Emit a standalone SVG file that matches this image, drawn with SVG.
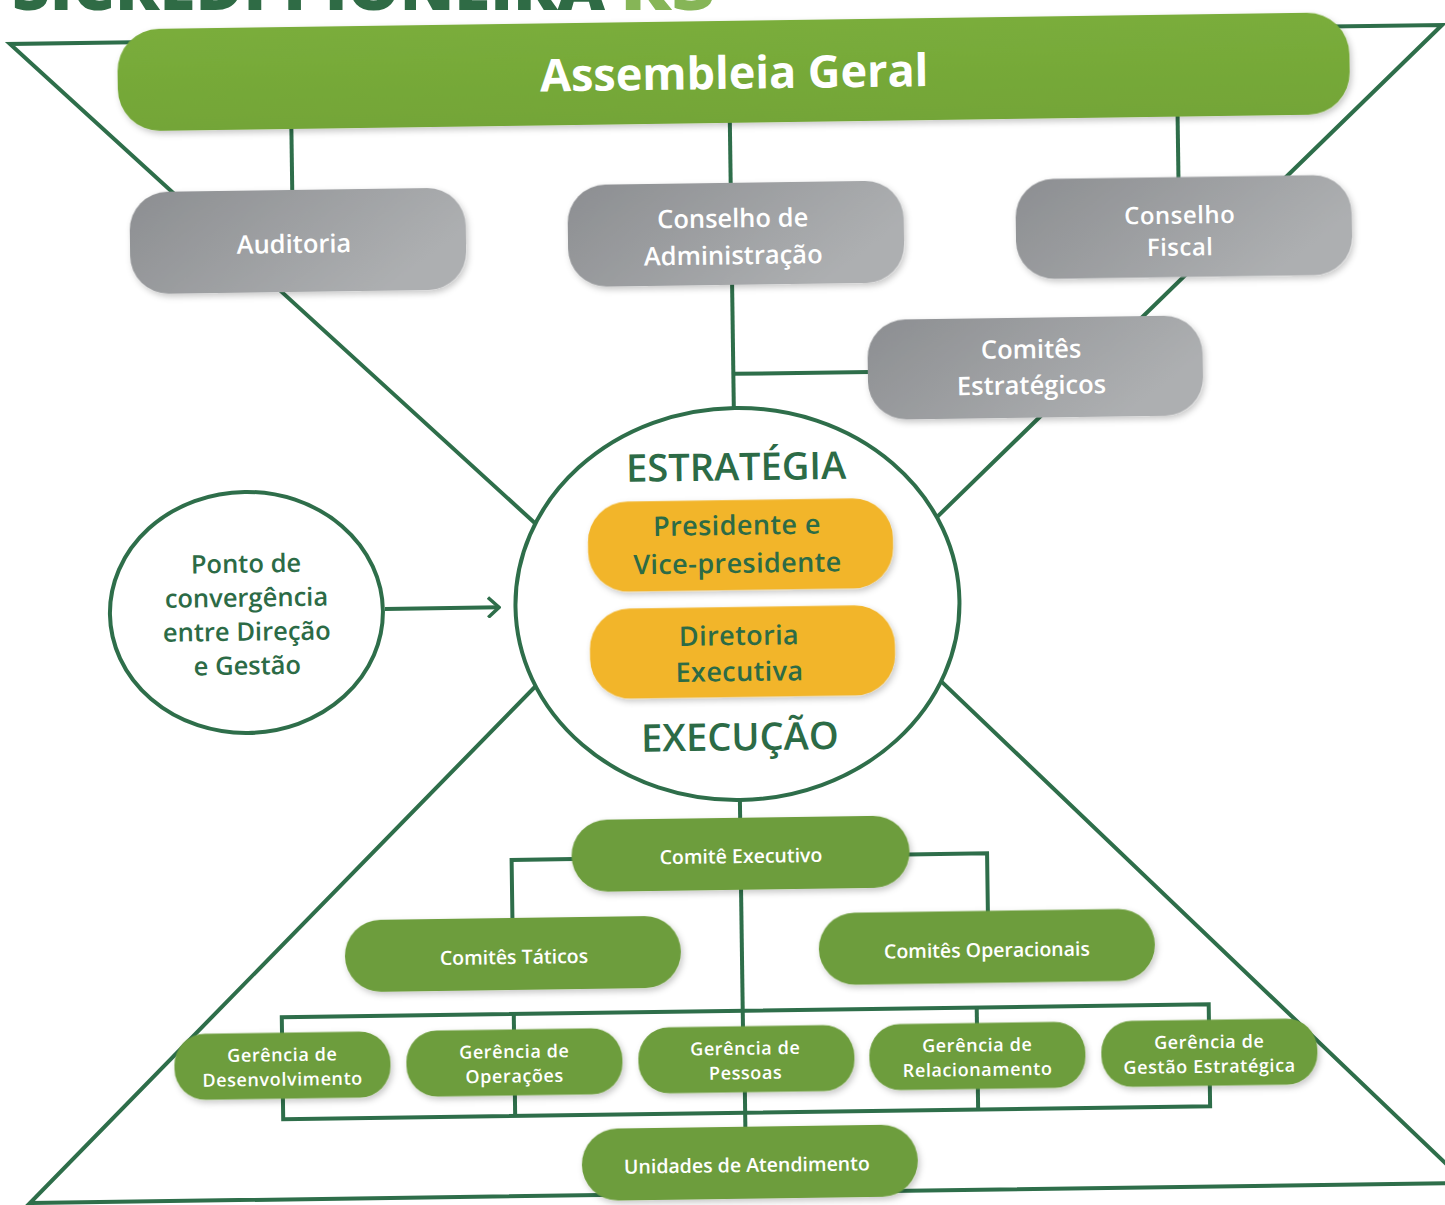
<svg xmlns="http://www.w3.org/2000/svg" width="1445" height="1205" viewBox="0 0 1445 1205">
<defs>
<style>
.ln{fill:none;stroke:#2e6e4a;stroke-width:4;stroke-linecap:butt;stroke-linejoin:miter}
.gbox{fill:url(#gray);filter:url(#sh)}
.grn{fill:#6d9d3c;filter:url(#sh)}
.ylw{fill:#f2b52a;filter:url(#sh)}
.wt{font-family:"Open Sans","Noto Sans",sans-serif;fill:#ffffff;text-anchor:middle;font-weight:600}
.dk{font-family:"Open Sans","Noto Sans",sans-serif;fill:#2c6b46;text-anchor:middle;font-weight:600}
.big{font-size:45px;font-weight:700}
.g{font-size:25.5px}
.s{font-size:19.5px}
.m{font-size:18px;letter-spacing:0.6px}
.y{font-size:27px;letter-spacing:0.4px}
.h{font-size:38px}
</style>
<linearGradient id="gray" x1="0" y1="0" x2="1" y2="0.4">
<stop offset="0" stop-color="#8c8e91"/>
<stop offset="1" stop-color="#adafb1"/>
</linearGradient>
<linearGradient id="asm" x1="0" y1="0" x2="0" y2="1">
<stop offset="0" stop-color="#7aad3b"/>
<stop offset="1" stop-color="#73a537"/>
</linearGradient>
<filter id="sh" x="-10%" y="-20%" width="120%" height="150%">
<feDropShadow dx="2" dy="3" stdDeviation="3" flood-color="#000" flood-opacity="0.22"/>
</filter>
<marker id="arr" viewBox="0 0 14 22" refX="12" refY="11" markerWidth="14" markerHeight="22" markerUnits="userSpaceOnUse" orient="auto">
<path d="M1,1 L12,11 L1,21" fill="none" stroke="#2e6e4a" stroke-width="3.5"/>
</marker>
</defs>
<rect width="1445" height="1205" fill="#ffffff"/>
<text x="12" y="10" font-family="'Open Sans','Noto Sans',sans-serif" font-weight="800" font-size="62" fill="#2f6b45" textLength="593" lengthAdjust="spacingAndGlyphs">SICREDI PIONEIRA</text>
<text x="620" y="10" font-family="'Open Sans','Noto Sans',sans-serif" font-weight="800" font-size="62" fill="#86b557" textLength="95" lengthAdjust="spacingAndGlyphs">RS</text>
<g transform="rotate(-0.8 722 600)">
<g id="connectors">
<path class="ln" d="M160,34 H17.8 L567,549.6"/>
<path class="ln" d="M1300,35.1 H1450 L907.5,549.1"/>
<path class="ln" d="M561.2,657 L21.6,1193.3 H1458 L913,657.8"/>
<line class="ln" x1="298" y1="120" x2="298" y2="186"/>
<line class="ln" x1="736.5" y1="120" x2="736.5" y2="185"/>
<line class="ln" x1="1184.3" y1="120" x2="1184.3" y2="186"/>
<line class="ln" x1="736.5" y1="283" x2="736.5" y2="420"/>
<line class="ln" x1="736.5" y1="374" x2="873" y2="374"/>
<line class="ln" x1="737.1" y1="795" x2="737.1" y2="820"/>
<path class="ln" d="M570,857 H508 V917"/>
<path class="ln" d="M904,857 H983.5 V916"/>
<line class="ln" x1="737" y1="888" x2="737" y2="1029"/>
<path class="ln" d="M276,1029 V1011 H1203 V1029"/>
<line class="ln" x1="508" y1="1011" x2="508" y2="1029"/>
<line class="ln" x1="971" y1="1011" x2="971" y2="1029"/>
<path class="ln" d="M276,1090 V1113 H1203 V1090"/>
<line class="ln" x1="508" y1="1090" x2="508" y2="1113"/>
<line class="ln" x1="971" y1="1090" x2="971" y2="1113"/>
<line class="ln" x1="738" y1="1090" x2="738" y2="1129"/>
<line class="ln" x1="384.9" y1="604.2" x2="499" y2="604.2" marker-end="url(#arr)"/>
</g>
<g id="assembleia-geral">
<rect x="125" y="21" width="1232" height="102" rx="42" fill="url(#asm)" filter="url(#sh)"/>
<text class="wt big" x="741.5" y="89">Assembleia Geral</text>
</g>
<g id="auditoria">
<rect class="gbox" x="135" y="184" width="336" height="102" rx="38"/>
<text class="wt g" x="299" y="247">Auditoria</text>
</g>
<g id="conselho-administracao">
<rect class="gbox" x="573" y="183" width="336" height="102" rx="38"/>
<text class="wt g" x="738" y="227.5">Conselho de</text>
<text class="wt g" x="738" y="264.5">Administração</text>
</g>
<g id="conselho-fiscal">
<rect class="gbox" x="1021" y="183.5" width="336" height="100" rx="38"/>
<text class="wt" x="1185" y="230" font-size="24" style="font-size:24px;letter-spacing:0.5px">Conselho</text>
<text class="wt" x="1185" y="262" style="font-size:24px;letter-spacing:0.5px">Fiscal</text>
</g>
<g id="comites-estrategicos">
<rect class="gbox" x="871" y="322" width="335" height="100" rx="38"/>
<text class="wt g" x="1034.5" y="362.5">Comitês</text>
<text class="wt g" x="1034.5" y="398.5">Estratégicos</text>
</g>
<g id="ponto-convergencia">
<ellipse cx="246.3" cy="605.8" rx="136.5" ry="120.5" fill="#ffffff" stroke="#2e6e4a" stroke-width="4"/>
<text class="dk g" x="246.5" y="566">Ponto de</text>
<text class="dk g" x="246.5" y="600">convergência</text>
<text class="dk g" x="246.5" y="634">entre Direção</text>
<text class="dk g" x="246.5" y="668">e Gestão</text>
</g>
<g id="estrategia-execucao">
<ellipse cx="737.4" cy="604.2" rx="222" ry="196" fill="#ffffff" stroke="#2e6e4a" stroke-width="4"/>
<text class="dk h" x="738" y="480.5">ESTRATÉGIA</text>
<text class="dk h" x="738" y="750.5">EXECUÇÃO</text>
</g>
<g id="presidente">
<rect class="ylw" x="588.8" y="500.3" width="305" height="90" rx="40"/>
<text class="dk y" x="738" y="535">Presidente e</text>
<text class="dk y" x="738" y="573">Vice-presidente</text>
</g>
<g id="diretoria-executiva">
<rect class="ylw" x="589.3" y="607.3" width="305" height="90" rx="40"/>
<text class="dk y" x="738.5" y="645.3">Diretoria</text>
<text class="dk y" x="738.5" y="681.3">Executiva</text>
</g>
<g id="comite-executivo">
<rect class="grn" x="568" y="818" width="338" height="72" rx="36"/>
<text class="wt s" x="737.4" y="863.3">Comitê Executivo</text>
</g>
<g id="comites-taticos">
<rect class="grn" x="340" y="915" width="336" height="72" rx="36"/>
<text class="wt s" x="509" y="961">Comitês Táticos</text>
</g>
<g id="comites-operacionais">
<rect class="grn" x="814" y="914.5" width="336" height="72" rx="36"/>
<text class="wt s" x="982" y="960.7">Comitês Operacionais</text>
</g>
<g id="gerencia-desenvolvimento">
<rect class="grn" x="168" y="1026.5" width="216" height="66" rx="31"/>
<text class="wt m" x="276" y="1055">Gerência de</text>
<text class="wt m" x="276" y="1079.5">Desenvolvimento</text>
</g>
<g id="gerencia-operacoes">
<rect class="grn" x="400" y="1026.5" width="216" height="66" rx="31"/>
<text class="wt m" x="508" y="1055">Gerência de</text>
<text class="wt m" x="508" y="1079.5">Operações</text>
</g>
<g id="gerencia-pessoas">
<rect class="grn" x="632" y="1026.5" width="216" height="66" rx="31"/>
<text class="wt m" x="739" y="1055">Gerência de</text>
<text class="wt m" x="739" y="1079.5">Pessoas</text>
</g>
<g id="gerencia-relacionamento">
<rect class="grn" x="863" y="1026.5" width="216" height="66" rx="31"/>
<text class="wt m" x="971" y="1055">Gerência de</text>
<text class="wt m" x="971" y="1079.5">Relacionamento</text>
</g>
<g id="gerencia-gestao-estrategica">
<rect class="grn" x="1095" y="1026.5" width="216" height="66" rx="31"/>
<text class="wt m" x="1203" y="1055">Gerência de</text>
<text class="wt m" x="1203" y="1079.5">Gestão Estratégica</text>
</g>
<g id="unidades-atendimento">
<rect class="grn" x="574" y="1127" width="336" height="72" rx="36"/>
<text class="wt s" x="739" y="1172.3">Unidades de Atendimento</text>
</g>
</g>
</svg>
